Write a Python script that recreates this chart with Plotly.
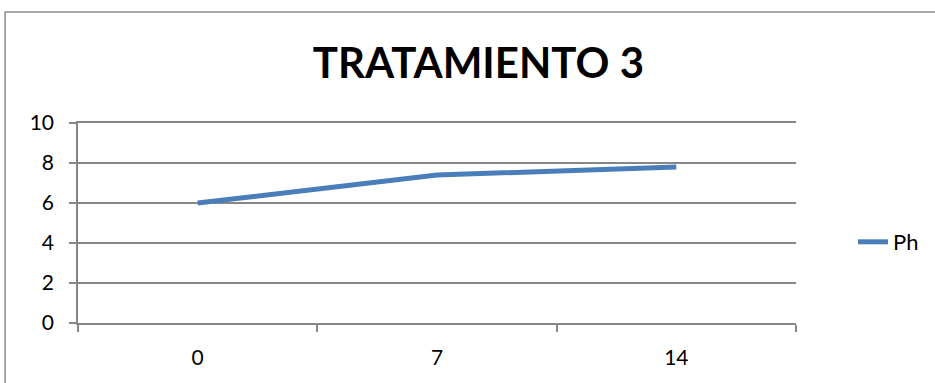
import plotly.graph_objects as go

# Sampling days and pH readings for treatment 3
days = ["0", "7", "14"]
ph_values = [6.0, 7.4, 7.8]
y_ticks = [0, 2, 4, 6, 8, 10]

W, H = 935, 383
L, R, T, B = 78, 138, 123, 60
pw, ph = W - L - R, H - T - B


def px_x(x):
    return (x - L) / pw


def px_y(y):
    return (H - B - y) / ph


AXIS = "#868686"
FONT = "Lato, 'Open Sans', sans-serif"

fig = go.Figure()
fig.add_trace(go.Scatter(
    x=days, y=ph_values, mode="lines", name="Ph",
    line=dict(color="#4A7EBB", width=5),
))

fig.update_layout(
    width=W, height=H,
    margin=dict(l=L, r=R, t=T, b=B),
    paper_bgcolor="white", plot_bgcolor="white",
    font=dict(family=FONT, color="black", size=21),
    title=dict(
        text="<b>TRATAMIENTO 3</b>",
        x=px_x(479), xref="paper", xanchor="center",
        y=1 - 63 / H, yanchor="middle",
        font=dict(family=FONT, size=42, color="black"),
    ),
    showlegend=True,
    legend=dict(
        x=px_x(853), xanchor="left", y=px_y(242), yanchor="middle",
        font=dict(family=FONT, size=22), bgcolor="rgba(0,0,0,0)",
        itemwidth=30,
    ),
    xaxis=dict(
        type="category", categoryorder="array", categoryarray=days,
        range=[-0.5, 2.5], tickson="boundaries",
        showgrid=False, showline=True, linecolor=AXIS, linewidth=1.5,
        mirror=True,
        ticks="outside", ticklen=7, tickcolor=AXIS, tickwidth=1.5,
        ticklabelstandoff=15, zeroline=False,
    ),
    yaxis=dict(
        range=[0, 10], tickvals=y_ticks,
        showgrid=True, gridcolor=AXIS, gridwidth=1.5,
        showline=True, linecolor=AXIS, linewidth=1.5,
        ticks="outside", ticklen=7, tickcolor=AXIS, tickwidth=1.5,
        zeroline=False, ticklabelstandoff=11,
    ),
    shapes=[dict(
        type="rect", xref="paper", yref="paper",
        x0=px_x(5), x1=px_x(945), y0=px_y(395), y1=px_y(12),
        line=dict(color="#8C8C8C", width=1.5), fillcolor="rgba(0,0,0,0)",
        layer="below",
    )],
)

fig.write_html("out.html")
